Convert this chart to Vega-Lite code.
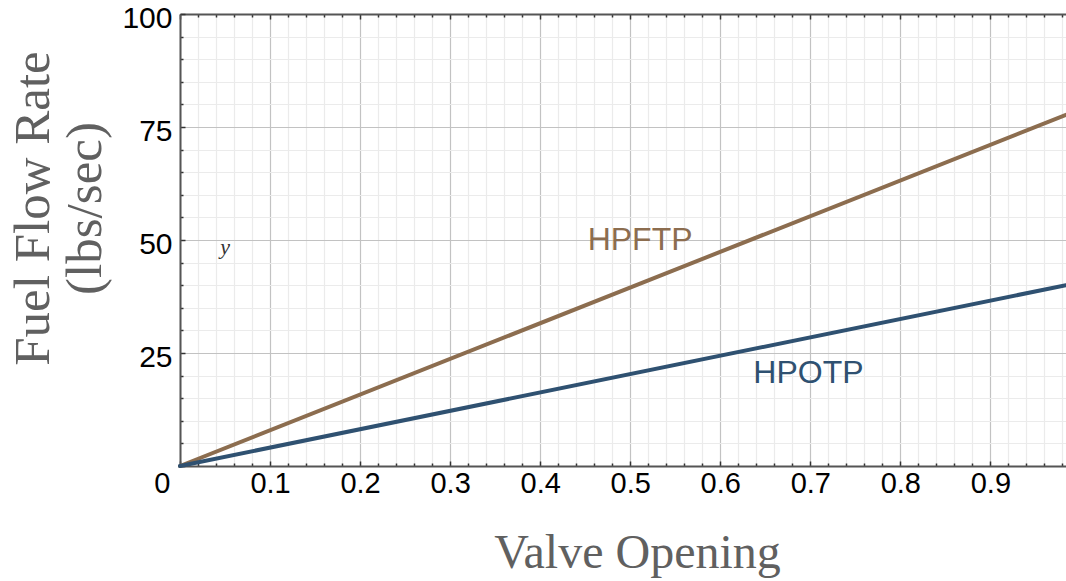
{
  "$schema": "https://vega.github.io/schema/vega-lite/v6.json",
  "width": 886,
  "height": 452,
  "autosize": "none",
  "padding": {"left": 180, "top": 14, "right": 0, "bottom": 115},
  "background": "white",
  "config": {"view": {"stroke": null}, "axis": {"labelOverlap": false}},
  "datasets": {
    "series": [
      {"opening": 0, "flow": 0, "pump": "HPFTP"},
      {"opening": 0.984, "flow": 77.7, "pump": "HPFTP"},
      {"opening": 0, "flow": 0, "pump": "HPOTP"},
      {"opening": 0.984, "flow": 40.0, "pump": "HPOTP"}
    ],
    "labels": [
      {"opening": 0.511, "flow": 50.0, "text": "HPFTP", "kind": "HPFTP"},
      {"opening": 0.698, "flow": 20.6, "text": "HPOTP", "kind": "HPOTP"},
      {"opening": 0.05, "flow": 48.5, "text": "y", "kind": "y"}
    ]
  },
  "resolve": {"axis": {"x": "independent", "y": "independent"}, "scale": {"color": "independent"}},
  "layer": [
    {
      "data": {"name": "series"},
      "mark": {"type": "line", "strokeWidth": 4, "strokeCap": "round"},
      "encoding": {
        "x": {
          "field": "opening", "type": "quantitative",
          "scale": {"domain": [0, 0.984], "nice": false, "zero": true},
          "axis": {
            "orient": "bottom",
            "title": "Valve Opening",
            "values": [0,0.02,0.04,0.06,0.08,0.1,0.12,0.14,0.16,0.18,0.2,0.22,0.24,0.26,0.28,0.3,0.32,0.34,0.36,0.38,0.4,0.42,0.44,0.46,0.48,0.5,0.52,0.54,0.56,0.58,0.6,0.62,0.64,0.66,0.68,0.7,0.72,0.74,0.76,0.78,0.8,0.82,0.84,0.86,0.88,0.9,0.92,0.94,0.96,0.98],
            "labelExpr": "abs(datum.value*10 - round(datum.value*10)) < 1e-6 ? format(datum.value, '.1~f') : ''",
            "labelOverlap": false,
            "labelFlush": false,
            "labelFont": "Liberation Sans",
            "labelFontSize": 29,
            "labelColor": "#000000",
            "labelPadding": 8,
            "labelAlign": {"condition": {"test": "datum.value == 0", "value": "right"}, "value": "center"},
            "labelOffset": {"condition": {"test": "datum.value == 0", "value": -10}, "value": 0},
            "grid": true,
            "gridColor": {"condition": {"test": "abs(datum.value*10 - round(datum.value*10)) < 1e-6", "value": "#c2c2c2"}, "value": "#ebebeb"},
            "gridWidth": 1.2,
            "ticks": true,
            "tickColor": "#333333",
            "tickSize": {"condition": {"test": "abs(datum.value*10 - round(datum.value*10)) < 1e-6", "value": -5}, "value": -3},
            "tickWidth": 1.5,
            "domain": true,
            "domainColor": "#555555",
            "domainWidth": 2,
            "titleFont": "Liberation Serif",
            "titleFontSize": 48,
            "titleFontWeight": "normal",
            "titleColor": "#606060",
            "titleX": 457,
            "titleY": 101,
            "titleAlign": "center",
            "titleBaseline": "alphabetic"
          }
        },
        "y": {
          "field": "flow", "type": "quantitative",
          "scale": {"domain": [0, 100], "nice": false},
          "axis": {
            "orient": "left",
            "title": ["Fuel Flow Rate", "(lbs/sec)"],
            "values": [0,5,10,15,20,25,30,35,40,45,50,55,60,65,70,75,80,85,90,95,100],
            "labelExpr": "(datum.value == 25 || datum.value == 50 || datum.value == 75 || datum.value == 100) ? format(datum.value, 'd') : ''",
            "labelOverlap": false,
            "labelBound": false,
            "labelFlush": false,
            "labelFont": "Liberation Sans",
            "labelFontSize": 30,
            "labelColor": "#000000",
            "labelPadding": 13,
            "labelOffset": 4,
            "grid": true,
            "gridColor": {"condition": {"test": "datum.value % 25 == 0", "value": "#c2c2c2"}, "value": "#ebebeb"},
            "gridWidth": 1.2,
            "ticks": true,
            "tickColor": "#333333",
            "tickSize": {"condition": {"test": "datum.value % 25 == 0", "value": -5}, "value": -3},
            "tickWidth": 1.5,
            "domain": true,
            "domainColor": "#555555",
            "domainWidth": 2,
            "titleFont": "Liberation Serif",
            "titleFontSize": 51,
            "titleFontWeight": "normal",
            "titleColor": "#606060",
            "titleAngle": 270,
            "titleAlign": "center",
            "titleBaseline": "alphabetic",
            "titleX": -132,
            "titleY": 194,
            "titleLineHeight": 52
          }
        },
        "color": {
          "field": "pump", "type": "nominal",
          "scale": {"domain": ["HPFTP", "HPOTP"], "range": ["#8c6d4f", "#2f5171"]},
          "legend": null
        }
      }
    },
    {
      "data": {"name": "labels"},
      "transform": [{"filter": "datum.kind == 'HPFTP'"}],
      "mark": {"type": "text", "align": "center", "baseline": "middle", "font": "Liberation Sans", "fontSize": 32, "color": "#8c6d4f"},
      "encoding": {
        "x": {
          "field": "opening", "type": "quantitative",
          "axis": {
            "orient": "top",
            "title": null,
            "values": [0,0.02,0.04,0.06,0.08,0.1,0.12,0.14,0.16,0.18,0.2,0.22,0.24,0.26,0.28,0.3,0.32,0.34,0.36,0.38,0.4,0.42,0.44,0.46,0.48,0.5,0.52,0.54,0.56,0.58,0.6,0.62,0.64,0.66,0.68,0.7,0.72,0.74,0.76,0.78,0.8,0.82,0.84,0.86,0.88,0.9,0.92,0.94,0.96,0.98],
            "labels": false,
            "grid": false,
            "ticks": true,
            "tickColor": "#333333",
            "tickSize": {"condition": {"test": "abs(datum.value*10 - round(datum.value*10)) < 1e-6", "value": -5}, "value": -3},
            "tickWidth": 1.5,
            "domain": true,
            "domainColor": "#555555",
            "domainWidth": 2
          }
        },
        "y": {"field": "flow", "type": "quantitative", "axis": null},
        "text": {"field": "text", "type": "nominal"}
      }
    },
    {
      "data": {"name": "labels"},
      "transform": [{"filter": "datum.kind == 'HPOTP'"}],
      "mark": {"type": "text", "align": "center", "baseline": "middle", "font": "Liberation Sans", "fontSize": 32, "color": "#2f5171"},
      "encoding": {
        "x": {"field": "opening", "type": "quantitative", "axis": null},
        "y": {"field": "flow", "type": "quantitative", "axis": null},
        "text": {"field": "text", "type": "nominal"}
      }
    },
    {
      "data": {"name": "labels"},
      "transform": [{"filter": "datum.kind == 'y'"}],
      "mark": {"type": "text", "align": "center", "baseline": "middle", "font": "Liberation Serif", "fontStyle": "italic", "fontSize": 22, "color": "#333333"},
      "encoding": {
        "x": {"field": "opening", "type": "quantitative", "axis": null},
        "y": {"field": "flow", "type": "quantitative", "axis": null},
        "text": {"field": "text", "type": "nominal"}
      }
    }
  ]
}
